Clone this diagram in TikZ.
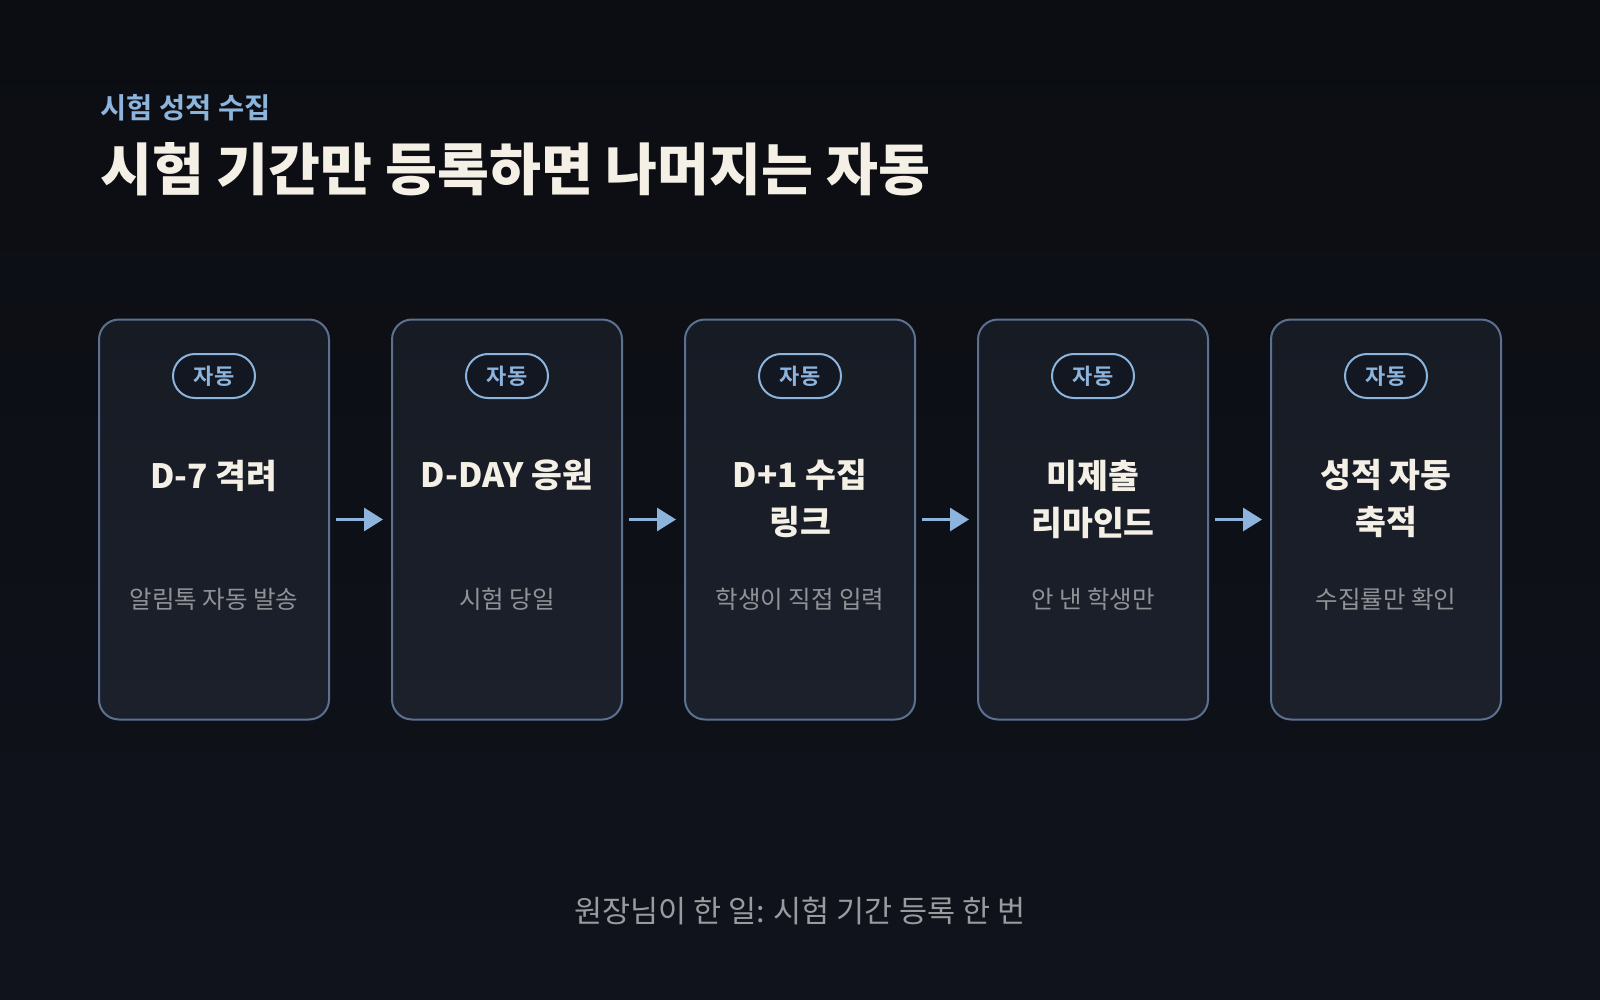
\documentclass[tikz,border=0pt]{standalone}
\usepackage{fontspec}
\usetikzlibrary{arrows.meta}
\newfontfamily\krreg{Noto Sans CJK KR}
\newfontfamily\krbold{Noto Sans CJK KR Bold}
\newfontfamily\krblack{Noto Sans CJK KR Black}
\definecolor{bgtop}{HTML}{0B0D12}
\definecolor{bgbot}{HTML}{10131C}
\definecolor{cardtop}{HTML}{171B24}
\definecolor{cardbot}{HTML}{1B202B}
\definecolor{cardline}{HTML}{5A7290}
\definecolor{pillfill}{HTML}{121722}
\definecolor{accent}{HTML}{8CB4DC}
\definecolor{cream}{HTML}{F4F0E6}
\definecolor{subgray}{HTML}{909296}
\definecolor{footgray}{HTML}{9A9B9E}
\tikzset{
  card/.style={draw=cardline, line width=2pt, top color=cardtop, bottom color=cardbot,
    rounded corners=20pt, minimum width=230pt, minimum height=400pt, inner sep=0pt},
  pill/.style={draw=accent, line width=2pt, fill=pillfill, rounded corners=22pt,
    minimum width=82pt, minimum height=44pt, inner sep=0pt, text=accent,
    font=\krbold\fontsize{22}{22}\selectfont},
  cardtitle/.style={anchor=north, align=center, text=cream, inner sep=0pt,
    font=\krblack\fontsize{33.5}{47}\selectfont},
  cardsub/.style={anchor=base, text=subgray, inner sep=0pt,
    font=\krreg\fontsize{24.5}{24.5}\selectfont},
  flow/.style={draw=accent, line width=3pt, shorten <=6pt, shorten >=8pt,
    -{Triangle[length=19pt, width=23pt]}},
}
\begin{document}
\begin{tikzpicture}[x=1pt, y=-1pt]
  \shade[top color=bgtop, bottom color=bgbot] (0,0) rectangle (1600,1000);
  \useasboundingbox (0,0) rectangle (1600,1000);

  \node[anchor=base west, text=accent, inner sep=0pt,
    font=\krbold\fontsize{28.5}{28.5}\selectfont] (kicker) at (100,119) {시험 성적 수집};
  \node[anchor=base west, text=cream, inner sep=0pt,
    font=\krblack\fontsize{56.4}{56.4}\selectfont] (title) at (100,191) {시험 기간만 등록하면 나머지는 자동};

  \foreach \i/\t/\s in {1/{D-7 격려}/{알림톡 자동 발송},
                        2/{D-DAY 응원}/{시험 당일},
                        3/{D+1 수집\\링크}/{학생이 직접 입력},
                        4/{미제출\\리마인드}/{안 낸 학생만},
                        5/{성적 자동\\축적}/{수집률만 확인}} {
    \pgfmathsetmacro{\cx}{214+293*(\i-1)}
    \node[card] (c\i) at (\cx,519.5) {};
    \node[pill] (p\i) at (\cx,376) {자동};
    \node[cardtitle] (t\i) at (\cx,459.5) {\t};
    \node[cardsub] (s\i) at (\cx,608.5) {\s};
  }
  \foreach \a/\b in {1/2,2/3,3/4,4/5} {
    \draw[flow] (c\a.east) -- (c\b.west);
  }

  \node[anchor=base, text=footgray, inner sep=0pt,
    font=\krreg\fontsize{30.5}{30.5}\selectfont] (footer) at (800,922.5) {원장님이 한 일: 시험 기간 등록 한 번};
\end{tikzpicture}
\end{document}
